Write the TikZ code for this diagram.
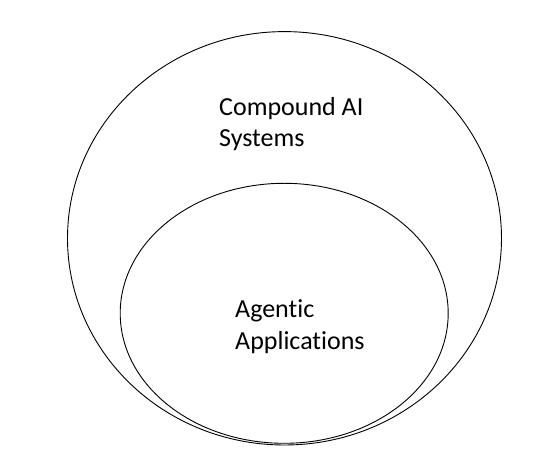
\documentclass[tikz,border=0pt]{standalone}
\usepackage{fontspec}
\setmainfont{Carlito}[Ligatures={NoCommon}]
\usetikzlibrary{shapes.geometric}
\tikzset{
  setring/.style={draw=black, line width=0.9pt},
  setlabel/.style={anchor=base west, inner sep=0pt, align=left, font=\fontsize{26}{31.8}\selectfont}
}
\begin{document}
\begin{tikzpicture}[x=1pt,y=-1pt]
\useasboundingbox (0,0) rectangle (550,462);
\draw[setring] (284.5,238.3) ellipse [x radius=217, y radius=206.7];
\draw[setring] (284.2,313.3) ellipse [x radius=164, y radius=130];
\node[setlabel] (outerlabel) at (219,147) {Compound AI\\Systems};
\node[setlabel] (innerlabel) at (235,349.5) {Agentic\\Applications};
\end{tikzpicture}
\end{document}
